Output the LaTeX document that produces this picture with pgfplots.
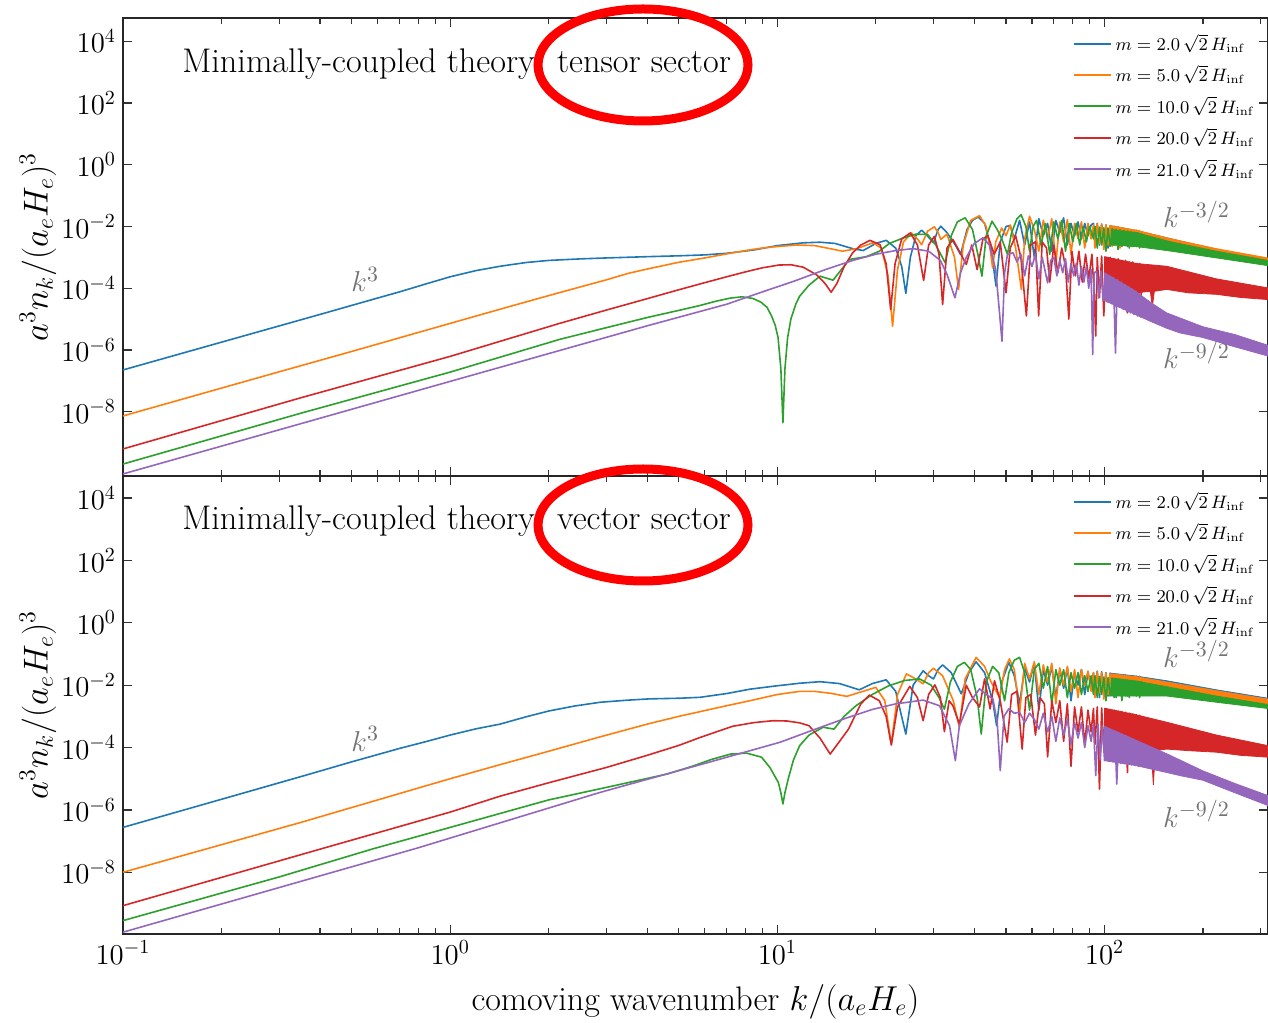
\documentclass[border=0pt]{standalone}
\usepackage{pgfplots}
\pgfplotsset{compat=1.18}

\definecolor{cB}{HTML}{1F77B4}
\definecolor{cO}{HTML}{FF7F0E}
\definecolor{cG}{HTML}{2CA02C}
\definecolor{cR}{HTML}{D62728}
\definecolor{cP}{HTML}{9467BD}

\pgfplotsset{
  legend image code/.code={\draw[#1, line width=1pt] (0pt,0pt) -- (18.5pt,0pt);},
  every axis/.append style={
    xmode=log, ymode=log,
    scale only axis, width=572.5pt, height=229pt,
    xmin=0.1, xmax=316,
    ytick={1e-8,1e-6,1e-4,1e-2,1,1e2,1e4},
    yminorticks=false,
    tick align=inside,
    major tick length=4.5pt, minor tick length=3pt,
    tick style={black!80, line width=0.6pt},
    axis line style={black!85, line width=0.8pt},
    tick label style={font=\fontsize{14}{16}\selectfont},
    ylabel={$a^3 n_k/(a_e H_e)^3$},
    legend style={at={(0.992,0.975)}, anchor=north east, draw=none, fill=none,
      font=\fontsize{9}{10.5}\selectfont, row sep=2pt, inner sep=0pt},
    legend cell align=left,
  },
  every axis y label/.style={at={(rel axis cs:0,0.5)}, xshift=-42.5pt, rotate=90, anchor=center, font=\fontsize{17}{20}\selectfont},
  every axis x label/.style={at={(rel axis cs:0.5,0)}, yshift=-34pt, anchor=center, font=\fontsize{17}{20}\selectfont},
  every axis plot/.append style={line width=0.8pt, line join=round},
  band/.style={forget plot, draw=#1, fill=#1, line width=0.4pt},
}
\tikzset{
  note/.style={text=black!55, font=\fontsize{15}{18}\selectfont},
  heading/.style={anchor=base west, inner sep=0pt, font=\fontsize{17.1}{20}\selectfont},
}

\begin{document}
\begin{tikzpicture}
\useasboundingbox (-61.5pt,-44pt) rectangle (572.5pt,467pt);

% ---------------- tensor sector ----------------
\begin{axis}[at={(0,229pt)}, anchor=south west,
  ymin=8.2e-11, ymax=5.7e4, xticklabels={}]

\addplot[cB] coordinates {
(0.1,2.24e-7)(0.2,1.78e-6)(0.4,1.41e-5)(0.6,4.79e-5)(0.7,7.59e-5)(0.85,1.41e-4)(1.0,2.34e-4)(1.2,3.72e-4)
(1.42,5.13e-4)(1.7,6.76e-4)(2.0,7.94e-4)(2.5,8.91e-4)(3.0,9.55e-4)(4.0,1.05e-3)(5.0,1.12e-3)(6.0,1.20e-3)
(7.0,1.35e-3)(8.5,1.74e-3)(10,2.40e-3)(12,2.95e-3)(13.5,3.09e-3)(15,2.82e-3)(17,1.91e-3)(18.3,1.66e-3)
(20,2.82e-3)(21.5,3.55e-3)(23,2.0e-3)(24,5.01e-4)(24.7,6.76e-5)(25.5,1.0e-3)(26.5,5.01e-3)(27.6,7.59e-3)
(29,4.47e-3)(30,2.95e-3)(31,7.94e-3)(31.6,1.02e-2)(33,6.31e-3)(35,2.51e-3)(36.3,1.23e-3)(38,7.94e-3)
(39.5,1.58e-2)(41.1,2.04e-2)(43,1.26e-2)(45,2.0e-3)(46.6,1.17e-4)(48,3.16e-3)(50,1.0e-2)(51.5,1.07e-2)
(53,3.98e-3)(55,1.58e-2)(57,2.51e-3)(59,1.41e-2)(61,1.0e-3)(63,1.78e-2)(65,5.01e-3)(67,1.26e-2)
(69,1.58e-3)(71,1.58e-2)(73,6.31e-3)(75,1.91e-2)(77,2.51e-3)(79,1.26e-2)(81,5.01e-3)(83,1.41e-2)
(85,3.98e-3)(87,1.26e-2)(89,5.01e-3)(91,1.12e-2)(92.5,1.26e-2)
(93.5,3.16e-3)(95,1.26e-2)(96.5,2.51e-3)(98,1.20e-2)(99.5,3.55e-3)(101,1.12e-2)(102.5,2.0e-3)(104,1.07e-2)
(105.5,3.16e-3)(107,1.0e-2)(108.5,2.82e-3)(110,9.55e-3)(111.5,2.51e-3)(113,8.91e-3)(114.5,3.55e-3)(116,8.51e-3)
(117.5,2.24e-3)(119,7.94e-3)(120.5,3.16e-3)(122,7.59e-3)(123.5,2.82e-3)(125,7.41e-3)(126.5,2.51e-3)(128,7.08e-3)
(129.5,3.16e-3)
};
\addlegendentry{$m=2.0\,\sqrt{2}\,H_{\mathrm{inf}}$}
\addplot[band=cB] coordinates {
(105,1.05e-2)(125,7.41e-3)(160,3.98e-3)(220,1.78e-3)(316,8.51e-4)
(316,6.31e-4)(220,1.12e-3)(160,1.78e-3)(125,2.51e-3)(105,2.82e-3)} -- cycle;

\addplot[cO] coordinates {
(0.1,7.24e-9)(0.3,1.95e-7)(0.5,8.91e-7)(1.0,7.24e-6)(1.5,2.45e-5)(2.0,5.75e-5)(2.5,1.10e-4)(3.0,1.86e-4)
(3.5,3.02e-4)(4.0,4.17e-4)(5.0,6.92e-4)(6.0,9.55e-4)(7.0,1.29e-3)(8.0,1.66e-3)(9.0,2.0e-3)(10,2.24e-3)
(11.5,2.51e-3)(13,2.40e-3)(14.5,1.91e-3)(15.8,1.58e-3)(17.5,1.91e-3)(19.6,2.95e-3)(20.8,2.0e-3)(21.8,2.51e-4)
(22.5,5.89e-6)(23.3,3.98e-4)(24.3,3.16e-3)(25.7,6.17e-3)(26.8,3.98e-3)(27.6,2.57e-3)(28.8,7.08e-3)(30.2,9.77e-3)
(31.0,6.31e-3)(31.6,3.80e-3)(33,5.62e-3)(34.8,1.0e-3)(35.8,9.12e-5)(37,2.51e-3)(39,1.58e-2)(41.5,2.24e-2)
(43.5,1.0e-2)(44.8,1.58e-3)(45.5,4.57e-4)(46.5,3.16e-3)(48.5,8.91e-3)(50,5.01e-3)(51.5,1.12e-2)(53.5,2.0e-3)
(55.7,9.12e-5)(57,3.98e-3)(59,2.14e-2)(61,7.94e-3)(63,1.58e-3)(65,1.58e-2)(67,3.98e-3)(69,1.78e-2)
(71,6.31e-4)(73,1.41e-2)(75,3.16e-3)(77,1.66e-2)(79,1.26e-3)(81,1.26e-2)(83,3.98e-3)(85,1.41e-2)
(87,2.0e-3)(89,1.26e-2)(91,3.98e-3)(92.5,1.12e-2)
(93.5,2.0e-3)(95,1.26e-2)(96.5,2.82e-3)(98,1.20e-2)(99.5,1.78e-3)(101,1.12e-2)(102.5,2.51e-3)(104,1.07e-2)
(105.5,2.24e-3)(107,1.0e-2)(108.5,2.82e-3)(110,9.55e-3)(111.5,2.0e-3)(113,8.91e-3)(114.5,2.51e-3)(116,8.51e-3)
(117.5,2.82e-3)(119,7.94e-3)(120.5,2.24e-3)(122,7.59e-3)(123.5,2.82e-3)(125,7.59e-3)(126.5,2.51e-3)(128,7.24e-3)
(129.5,2.82e-3)
};
\addlegendentry{$m=5.0\,\sqrt{2}\,H_{\mathrm{inf}}$}
\addplot[band=cO] coordinates {
(105,1.05e-2)(125,7.59e-3)(160,3.98e-3)(220,1.91e-3)(316,9.55e-4)
(316,6.61e-4)(220,1.20e-3)(160,2.09e-3)(125,2.82e-3)(105,2.51e-3)} -- cycle;

\addplot[cG] coordinates {
(0.1,2.0e-10)(0.35,8.91e-9)(1.0,1.91e-7)(2.16,2.19e-6)(3.0,5.25e-6)(4.0,1.12e-5)(5.0,1.91e-5)(5.8,2.75e-5)
(6.5,3.80e-5)(7.2,4.79e-5)(7.8,5.25e-5)(8.4,4.68e-5)(8.9,3.55e-5)(9.3,2.40e-5)(9.6,1.26e-5)(9.85,6.31e-6)
(10.05,2.51e-6)(10.25,2.51e-7)(10.4,4.37e-9)(10.55,2.51e-7)(10.75,2.51e-6)(11.0,1.0e-5)(11.4,3.16e-5)(11.7,5.50e-5)
(12.5,1.26e-4)(13.5,2.45e-4)(14.8,1.82e-4)(16.6,8.51e-4)(18.7,1.05e-3)(20.5,1.58e-3)(22,2.82e-3)(24.3,4.27e-3)
(26.5,5.62e-3)(28.8,5.50e-3)(30.5,2.51e-3)(32.6,6.61e-4)(34,5.01e-3)(35.5,1.41e-2)(37.5,1.91e-2)(39.5,7.94e-3)
(41,1.26e-3)(42.2,2.45e-4)(43.5,5.01e-3)(45.3,1.48e-2)(47,7.94e-3)(48.5,3.98e-3)(50.5,1.26e-3)(52,6.31e-3)
(54,1.78e-2)(55.6,2.40e-2)(57.5,1.0e-2)(59,1.58e-3)(60.5,1.0e-2)(62,1.58e-2)(64,2.51e-3)(66,1.26e-2)
(68,1.26e-3)(70,1.41e-2)(72,3.98e-3)(74,1.58e-2)(76,1.58e-3)(78,1.26e-2)(80,3.16e-3)(82,1.26e-2)
(84,2.51e-3)(86,1.0e-2)(88,3.16e-3)(90,1.0e-2)(92.5,3.98e-3)
(93.5,1.0e-2)(95,2.0e-3)(96.5,9.55e-3)(98,2.51e-3)(99.5,9.12e-3)(101,1.58e-3)(102.5,8.91e-3)(104,2.24e-3)
(105.5,8.51e-3)(107,2.51e-3)(108.5,8.13e-3)(110,1.78e-3)(111.5,7.76e-3)(113,2.24e-3)(114.5,7.41e-3)(116,2.51e-3)
(117.5,7.08e-3)(119,2.0e-3)(120.5,6.76e-3)(122,2.24e-3)(123.5,6.46e-3)(125,2.24e-3)(126.5,6.31e-3)(128,2.0e-3)
(129.5,6.03e-3)
};
\addlegendentry{$m=10.0\,\sqrt{2}\,H_{\mathrm{inf}}$}
\addplot[band=cG] coordinates {
(105,7.94e-3)(125,6.31e-3)(160,3.16e-3)(220,1.58e-3)(316,7.94e-4)
(316,5.37e-4)(220,9.55e-4)(160,1.58e-3)(125,2.24e-3)(105,2.51e-3)} -- cycle;

\addplot[cR] coordinates {
(0.1,6.17e-10)(0.35,2.82e-8)(1.0,6.17e-7)(2.16,7.24e-6)(3.0,1.95e-5)(4.0,4.57e-5)(5.0,8.91e-5)(6.0,1.51e-4)
(7.0,2.34e-4)(8.0,3.39e-4)(9.0,4.57e-4)(10.1,5.62e-4)(11,5.75e-4)(12,4.79e-4)(13.2,2.69e-4)(14,1.41e-4)
(14.6,7.41e-5)(15.2,1.41e-4)(16,5.01e-4)(17,1.41e-3)(18,2.51e-3)(19.2,3.55e-3)(20.6,2.57e-3)(21.5,6.31e-4)
(22.2,2.04e-5)(22.9,6.31e-4)(24,3.98e-3)(25.5,6.17e-3)(26.8,2.51e-3)(28,1.78e-4)(29,2.51e-3)(30.2,4.79e-3)
(31.2,1.26e-3)(32,2.95e-5)(33,2.0e-3)(34.4,3.80e-3)(36,1.58e-3)(37.8,5.89e-4)(39.3,2.51e-3)(40.8,3.98e-4)
(42.5,3.98e-3)(44,5.01e-3)(46,1.26e-3)(48,3.16e-3)(50,7.08e-5)(51.5,2.0e-3)(53.5,5.01e-3)(55.5,1.0e-3)
(57.7,1.26e-5)(59.5,2.51e-3)(61.5,3.16e-3)(62.9,1.26e-5)(64.5,3.16e-3)(66.5,2.0e-3)(68,1.58e-4)(70,2.51e-3)
(72,3.16e-4)(74,2.0e-3)(76,5.01e-4)(77.8,1.0e-5)(79.5,1.58e-3)(81.5,2.51e-4)(83.5,1.58e-3)(85.5,1.58e-4)
(87.5,1.26e-3)(89.5,2.0e-4)(91.5,1.26e-3)(93,6.31e-5)(94,2.82e-6)(95,1.0e-3)
(96.5,5.01e-5)(98,1.10e-3)(99.5,1.26e-5)(101,1.0e-3)(102.5,6.31e-5)(104,1.0e-3)(105.5,3.98e-5)(107,8.91e-4)
(108.5,2.51e-5)(110,8.91e-4)(111.5,6.31e-5)(113,7.94e-4)(114.5,5.01e-5)(116,7.94e-4)(117.5,1.58e-5)(119,7.08e-4)
(120.5,6.31e-5)(122,7.08e-4)(123.5,3.98e-5)(125,6.31e-4)(126.5,7.94e-5)(128,6.31e-4)(129.5,5.01e-5)
};
\addlegendentry{$m=20.0\,\sqrt{2}\,H_{\mathrm{inf}}$}
\addplot[band=cR] coordinates {
(100,1.05e-3)(125,6.31e-4)(155,5.13e-4)(220,2.0e-4)(316,1.02e-4)
(316,4.27e-5)(260,5.01e-5)(220,6.31e-5)(180,7.08e-5)(155,9.12e-5)(142,7.94e-5)(140,2.51e-5)(138,7.94e-5)
(125,7.08e-5)(100,5.01e-5)} -- cycle;

\addplot[cP] coordinates {
(0.1,9.55e-11)(0.3,2.57e-9)(1.0,9.55e-8)(2.0,7.59e-7)(4.0,6.03e-6)(7.0,3.02e-5)(9.0,7.59e-5)(11.2,1.66e-4)
(14,3.98e-4)(17,7.94e-4)(20,1.26e-3)(23,1.66e-3)(26,1.91e-3)(29,1.58e-3)(31.5,7.94e-4)(33,2.82e-4)
(34.9,4.90e-5)(36.3,3.16e-4)(37.8,1.0e-3)(40,2.82e-3)(42.5,4.27e-3)(44.5,2.51e-3)(46.5,3.98e-4)(48.6,1.91e-6)
(49.5,3.16e-4)(50.5,1.23e-3)(52.5,1.41e-3)(54,7.08e-4)(55.5,1.26e-3)(57,2.51e-4)(58.5,1.12e-3)(60,5.01e-4)
(61.5,1.26e-3)(63,2.0e-4)(64.5,1.0e-3)(66,3.16e-4)(67,1.48e-4)(68.5,7.94e-4)(70,1.0e-3)(71.5,2.51e-4)
(73,7.94e-4)(74.5,3.16e-4)(76,8.91e-4)(77.5,1.58e-4)(79,6.31e-4)(80.5,2.51e-4)(82,6.31e-4)(83.5,1.26e-4)
(85,5.01e-4)(86.5,1.58e-4)(88,5.01e-4)(89.5,1.0e-4)(91,3.98e-4)(92,7.08e-7)(93,3.16e-4)(94.5,3.55e-4)
(96,4.79e-5)(97.5,3.55e-4)(99,3.98e-5)(100.5,3.02e-4)(102,3.55e-5)(103.5,2.51e-4)(105,3.16e-5)(106.5,2.19e-4)
(108,7.94e-7)(109.5,1.86e-4)(111,2.40e-5)(112.5,1.58e-4)(114,2.09e-5)(115.5,1.32e-4)(117,1.78e-5)(118.5,1.12e-4)
(120,1.58e-5)(121.5,9.55e-5)(123,1.41e-5)(124.5,7.94e-5)(126,1.26e-5)(127.5,6.76e-5)(129,1.12e-5)
};
\addlegendentry{$m=21.0\,\sqrt{2}\,H_{\mathrm{inf}}$}
\addplot[band=cP] coordinates {
(100,3.16e-4)(124,8.13e-5)(140,3.16e-5)(155,1.58e-5)(200,5.62e-6)(250,3.16e-6)(316,1.41e-6)
(316,6.31e-7)(250,1.26e-6)(200,2.51e-6)(170,3.55e-6)(155,5.01e-6)(140,7.94e-6)(124,1.41e-5)(100,3.98e-5)} -- cycle;

\node[heading] at (rel axis cs:0.0515,0.882) {Minimally-coupled theory: tensor sector};
\node[note] at (axis cs:0.55,1.9e-4) {$k^3$};
\node[note] at (axis cs:191,2.45e-2) {$k^{-3/2}$};
\node[note] at (axis cs:191,6.6e-7) {$k^{-9/2}$};
\end{axis}

% ---------------- vector sector ----------------
\begin{axis}[at={(0,0)}, anchor=south west,
  ymin=1.05e-10, ymax=5.07e4,
  xlabel={comoving wavenumber $k/(a_eH_e)$}]

\addplot[cB] coordinates {
(0.1,2.75e-7)(0.2,2.19e-6)(0.35,1.17e-5)(0.5,3.47e-5)(0.7,9.33e-5)(0.85,1.58e-4)(1.0,2.51e-4)(1.2,3.98e-4)
(1.42,5.62e-4)(1.7,9.55e-4)(2.0,1.48e-3)(2.4,2.14e-3)(2.87,2.82e-3)(3.5,3.31e-3)(4.07,3.63e-3)(5.0,3.80e-3)
(5.8,4.07e-3)(7.0,5.37e-3)(8.24,7.41e-3)(10,9.55e-3)(11.7,1.15e-2)(13.5,1.29e-2)(15.5,1.12e-2)(17.8,7.08e-3)
(19.5,1.12e-2)(21.5,1.48e-2)(23,6.31e-3)(24.7,2.69e-4)(26,1.0e-2)(27.9,2.88e-2)(29,2.0e-2)(30,1.58e-2)
(31,3.16e-2)(32,4.47e-2)(34,2.51e-2)(36.5,5.25e-3)(38.5,2.51e-2)(40.5,5.62e-2)(43,2.51e-2)(45.5,3.16e-3)
(46.8,5.01e-4)(48.5,1.26e-2)(51,5.37e-2)(53,2.0e-2)(55,2.51e-3)(57,3.55e-2)(59,1.26e-2)(61,5.01e-2)
(63,1.58e-3)(65,3.16e-2)(67,1.0e-2)(69,3.98e-2)(71,3.98e-3)(73,3.16e-2)(75,7.94e-3)(77,3.55e-2)
(79,3.16e-3)(81,2.51e-2)(83,1.0e-2)(85,3.16e-2)(87,5.01e-3)(89,2.51e-2)(91,1.0e-2)(92.5,2.51e-2)
(93.5,5.01e-3)(95,2.82e-2)(96.5,3.98e-3)(98,2.69e-2)(99.5,6.31e-3)(101,2.51e-2)(102.5,4.47e-3)(104,2.45e-2)
(105.5,5.62e-3)(107,2.34e-2)(108.5,3.98e-3)(110,2.24e-2)(111.5,6.31e-3)(113,2.19e-2)(114.5,5.01e-3)(116,2.09e-2)
(117.5,4.47e-3)(119,2.04e-2)(120.5,6.31e-3)(122,2.0e-2)(123.5,5.01e-3)(125,1.95e-2)(126.5,5.62e-3)(128,1.91e-2)
(129.5,6.31e-3)
};
\addlegendentry{$m=2.0\,\sqrt{2}\,H_{\mathrm{inf}}$}
\addplot[band=cB] coordinates {
(105,2.40e-2)(125,1.95e-2)(155,1.38e-2)(220,7.08e-3)(316,3.80e-3)
(316,2.82e-3)(220,4.47e-3)(155,6.31e-3)(125,6.31e-3)(105,5.62e-3)} -- cycle;

\addplot[cO] coordinates {
(0.1,1.0e-8)(0.35,3.98e-7)(1.0,1.0e-5)(1.42,2.82e-5)(2.0,7.59e-5)(2.87,2.19e-4)(4.0,5.62e-4)(5.0,1.0e-3)
(5.8,1.41e-3)(7.0,2.19e-3)(8.0,2.95e-3)(10,5.01e-3)(11.7,6.31e-3)(13,6.31e-3)(14.5,5.50e-3)(16.3,4.37e-3)
(18,6.03e-3)(20,8.51e-3)(21.3,3.16e-3)(22.3,1.29e-4)(23.3,5.01e-3)(24.8,2.29e-2)(26.5,1.58e-2)(27.9,1.10e-2)
(29,2.51e-2)(30,3.47e-2)(32,2.0e-2)(34.5,3.16e-3)(36,4.47e-4)(37.5,1.58e-2)(40.5,7.76e-2)(43,3.98e-2)
(45,1.26e-2)(47.8,3.98e-3)(49.5,3.16e-2)(51.2,6.92e-2)(53,3.16e-2)(55,1.26e-3)(57,5.01e-2)(59,1.58e-2)
(61,5.62e-2)(63,5.01e-3)(65,4.47e-2)(67,1.26e-2)(69,5.01e-2)(71,2.51e-3)(73,3.55e-2)(75,1.0e-2)
(77,3.98e-2)(79,6.31e-3)(81,3.16e-2)(83,3.98e-3)(85,3.16e-2)(87,1.0e-2)(89,2.82e-2)(91,6.31e-3)
(92.5,2.51e-2)
(93.5,3.98e-3)(95,2.69e-2)(96.5,5.62e-3)(98,2.57e-2)(99.5,3.55e-3)(101,2.45e-2)(102.5,5.01e-3)(104,2.34e-2)
(105.5,6.31e-3)(107,2.24e-2)(108.5,4.47e-3)(110,2.14e-2)(111.5,5.62e-3)(113,2.09e-2)(114.5,6.31e-3)(116,2.0e-2)
(117.5,5.01e-3)(119,1.95e-2)(120.5,5.62e-3)(122,1.91e-2)(123.5,6.31e-3)(125,1.86e-2)(126.5,5.01e-3)(128,1.82e-2)
(129.5,6.31e-3)
};
\addlegendentry{$m=5.0\,\sqrt{2}\,H_{\mathrm{inf}}$}
\addplot[band=cO] coordinates {
(105,2.29e-2)(125,1.86e-2)(155,1.26e-2)(220,6.61e-3)(316,3.55e-3)
(316,2.51e-3)(220,3.98e-3)(155,6.03e-3)(125,7.08e-3)(105,6.31e-3)} -- cycle;

\addplot[cG] coordinates {
(0.1,2.82e-10)(0.3,7.08e-9)(0.58,5.62e-8)(1.0,2.75e-7)(2.0,2.09e-6)(3.0,5.25e-6)(4.6,1.41e-5)(5.5,2.51e-5)
(6.3,4.17e-5)(7.2,6.17e-5)(8.05,6.61e-5)(8.95,4.90e-5)(9.5,2.24e-5)(10.07,7.59e-6)(10.25,3.55e-6)(10.4,1.55e-6)
(10.55,3.55e-6)(10.8,1.0e-5)(11.2,3.98e-5)(11.7,1.15e-4)(12.5,2.51e-4)(13.8,4.47e-4)(14.9,3.89e-4)(16,1.0e-3)
(17.4,2.19e-3)(19.5,5.01e-3)(21.9,9.55e-3)(24.5,1.41e-2)(27.2,1.58e-2)(29.5,1.0e-2)(31.2,3.98e-3)(32.4,1.70e-3)
(33.8,1.26e-2)(35.5,3.98e-2)(37.3,5.37e-2)(39,3.16e-2)(40.8,3.98e-3)(42,2.69e-4)(43.5,1.26e-2)(45.5,3.98e-2)
(47.5,2.51e-2)(49.5,3.16e-3)(51,2.51e-2)(53,6.31e-2)(55,7.76e-2)(57,2.51e-2)(59,1.58e-3)(61,3.16e-2)
(63,5.01e-2)(65,7.94e-3)(67,3.98e-2)(69,2.51e-3)(71,3.16e-2)(73,1.0e-2)(75,3.16e-2)(77,3.98e-3)
(79,2.51e-2)(81,7.94e-3)(83,2.51e-2)(85,5.01e-3)(87,2.0e-2)(89,6.31e-3)(91,2.0e-2)(92.5,5.01e-3)
(93.5,2.0e-2)(95,3.98e-3)(96.5,1.91e-2)(98,5.01e-3)(99.5,1.82e-2)(101,3.16e-3)(102.5,1.74e-2)(104,4.47e-3)
(105.5,1.66e-2)(107,3.98e-3)(108.5,1.58e-2)(110,5.01e-3)(111.5,1.55e-2)(113,3.16e-3)(114.5,1.48e-2)(116,4.47e-3)
(117.5,1.45e-2)(119,3.98e-3)(120.5,1.41e-2)(122,5.01e-3)(123.5,1.38e-2)(125,4.47e-3)(126.5,1.35e-2)(128,3.98e-3)
(129.5,1.32e-2)
};
\addlegendentry{$m=10.0\,\sqrt{2}\,H_{\mathrm{inf}}$}
\addplot[band=cG] coordinates {
(105,1.70e-2)(125,1.35e-2)(155,8.91e-3)(220,4.47e-3)(316,2.40e-3)
(316,1.78e-3)(220,2.82e-3)(155,4.47e-3)(125,4.47e-3)(105,4.47e-3)} -- cycle;

\addplot[cR] coordinates {
(0.1,8.51e-10)(0.4,5.50e-8)(1.0,8.51e-7)(1.42,2.75e-6)(2.0,7.41e-6)(3.0,2.29e-5)(4.0,5.62e-5)(5.0,1.17e-4)
(5.8,2.09e-4)(6.5,3.16e-4)(7.3,4.79e-4)(8.5,6.31e-4)(9.7,7.24e-4)(10.7,7.08e-4)(11.7,6.17e-4)(12.5,5.01e-4)
(13.5,2.0e-4)(14.5,6.17e-5)(15.5,1.58e-4)(16.5,3.89e-4)(18,2.51e-3)(19.1,4.79e-3)(20.5,3.16e-3)(21.5,1.0e-3)
(22.3,1.20e-4)(23.3,2.0e-3)(25.4,9.12e-3)(26.8,3.98e-3)(27.9,7.24e-4)(29,5.01e-3)(30.3,1.02e-2)(31.5,3.98e-3)
(32.4,3.24e-4)(33.5,3.16e-3)(34.4,2.19e-3)(36,5.62e-4)(37.8,1.0e-2)(39.5,3.98e-3)(41.5,2.0e-3)(43,1.58e-2)
(44.7,1.74e-3)(46.1,1.38e-2)(48,3.16e-3)(50.4,1.48e-4)(52,5.01e-3)(54,6.31e-3)(56,8.91e-5)(57.5,3.98e-3)
(59.5,5.01e-3)(61.5,2.51e-4)(63.5,3.98e-3)(65.5,2.51e-3)(67,5.01e-5)(69,3.16e-3)(71,6.31e-4)(73,3.16e-3)
(75,1.58e-4)(77,2.51e-3)(79,2.51e-5)(81,2.0e-3)(83,3.16e-4)(85,2.0e-3)(87,1.26e-4)(89,1.58e-3)
(91,3.16e-4)(92.5,1.78e-3)
(93.5,1.26e-4)(95,2.0e-3)(96.5,4.68e-6)(98,1.86e-3)(99.5,1.0e-4)(101,1.78e-3)(102.5,7.94e-5)(104,1.66e-3)
(105.5,1.0e-4)(107,1.58e-3)(108.5,3.16e-5)(110,1.48e-3)(111.5,7.94e-5)(113,1.41e-3)(114.5,1.0e-4)(116,1.35e-3)
(117.5,1.58e-5)(119,1.26e-3)(120.5,7.94e-5)(122,1.20e-3)(123.5,1.0e-4)(125,1.12e-3)(126.5,6.31e-5)(128,1.07e-3)
(129.5,8.91e-5)
};
\addlegendentry{$m=20.0\,\sqrt{2}\,H_{\mathrm{inf}}$}
\addplot[band=cR] coordinates {
(100,1.82e-3)(125,1.12e-3)(155,6.46e-4)(220,2.51e-4)(316,1.15e-4)
(316,4.90e-5)(260,5.62e-5)(220,7.08e-5)(180,7.94e-5)(155,8.91e-5)(143,7.94e-5)(141,6.31e-6)(139,7.94e-5)
(125,8.91e-5)(100,1.0e-4)} -- cycle;

\addplot[cP] coordinates {
(0.1,1.20e-10)(0.79,5.89e-8)(2.87,3.63e-6)(6.0,3.09e-5)(10.2,1.48e-4)(13,3.80e-4)(16.3,8.91e-4)(19.5,1.66e-3)
(23,2.51e-3)(27.9,3.31e-3)(31.3,2.19e-3)(33.6,5.01e-4)(35,3.80e-5)(36,5.01e-4)(38.5,2.51e-3)(41.5,7.59e-3)
(43.5,5.01e-3)(45.6,3.63e-3)(47,6.31e-4)(48,1.82e-5)(49.3,1.0e-3)(51,1.74e-3)(53,1.26e-3)(55,1.35e-3)
(57,6.31e-4)(59,1.26e-3)(61,7.94e-4)(63,3.89e-4)(65,1.26e-3)(67,3.16e-4)(69,1.0e-3)(71,1.58e-4)
(73,8.91e-4)(75,2.51e-4)(77,7.94e-4)(79,1.26e-4)(81,6.31e-4)(83,2.0e-4)(85,6.31e-4)(87,1.0e-4)
(89,5.01e-4)(91,1.58e-4)(92.5,5.62e-4)
(94,1.26e-5)(95.5,5.62e-4)(97,3.98e-5)(98.5,5.01e-4)(100,3.80e-5)(101.5,4.37e-4)(103,3.63e-5)(104.5,3.80e-4)
(106,3.47e-5)(107.5,3.39e-4)(109,6.76e-6)(110.5,3.02e-4)(112,3.16e-5)(113.5,2.63e-4)(115,3.02e-5)(116.5,2.34e-4)
(118,2.88e-5)(119.5,2.09e-4)(121,2.75e-5)(122.5,1.86e-4)(124,2.63e-5)(125.5,1.66e-4)(127,2.51e-5)(128.5,1.48e-4)
};
\addlegendentry{$m=21.0\,\sqrt{2}\,H_{\mathrm{inf}}$}
\addplot[band=cP] coordinates {
(100,4.79e-4)(125,1.70e-4)(155,6.31e-5)(200,1.78e-5)(250,7.08e-6)(316,2.88e-6)
(316,1.38e-6)(250,3.55e-6)(200,8.91e-6)(170,1.26e-5)(155,1.58e-5)(140,2.0e-5)(125,2.63e-5)(100,3.80e-5)} -- cycle;

\node[heading] at (rel axis cs:0.0515,0.884) {Minimally-coupled theory: vector sector};
\node[note] at (axis cs:0.55,1.86e-4) {$k^3$};
\node[note] at (axis cs:191,0.1) {$k^{-3/2}$};
\node[note] at (axis cs:191,7.4e-7) {$k^{-9/2}$};
\end{axis}

% highlight rings around the sector names
\draw[red, line width=4.5pt] (260pt,434.5pt) ellipse (52.5pt and 28pt);
\draw[red, line width=4.5pt] (260pt,204.5pt) ellipse (52.5pt and 28pt);
\end{tikzpicture}
\end{document}
